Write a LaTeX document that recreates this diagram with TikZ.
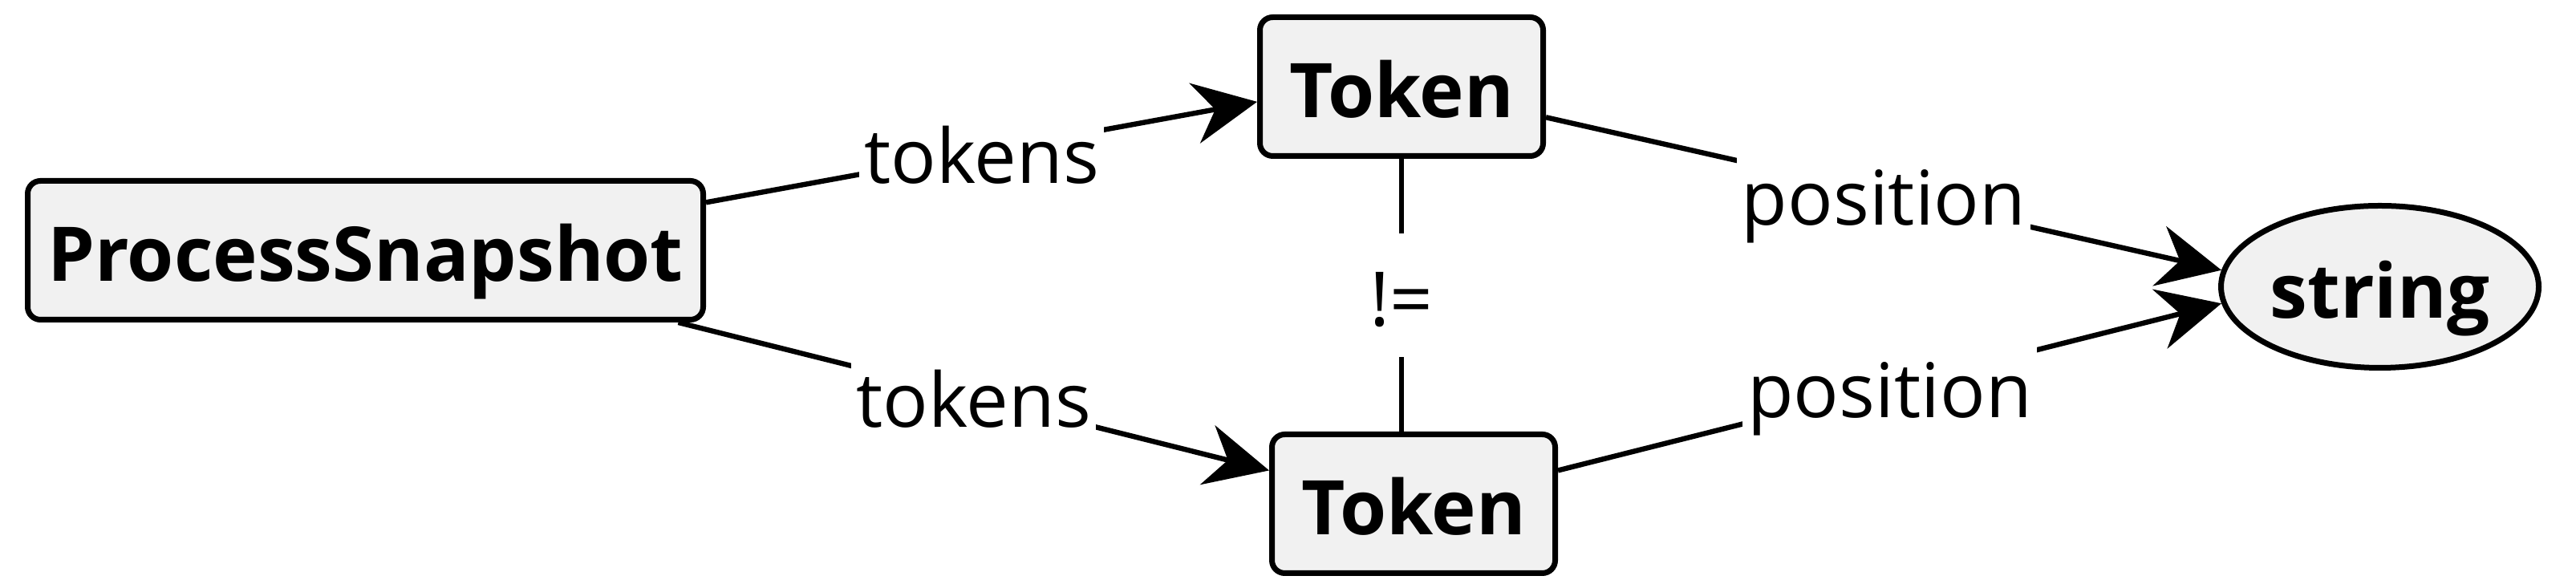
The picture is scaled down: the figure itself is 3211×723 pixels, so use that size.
\documentclass[tikz,border=0pt]{standalone}
\usepackage{fontspec}
\setmainfont{Open Sans}
\usetikzlibrary{arrows.meta,shapes.geometric}
\definecolor{boxFill}{RGB}{241,241,241}
\newcommand{\umlFont}{\fontsize{23.5pt}{28pt}\selectfont}
\tikzstyle{diagram} = [x = 0.25pt, y = -0.25pt, font=\umlFont]
\tikzstyle{classBox} = [draw=black, fill=boxFill, line width=1.75pt, rounded corners = 4pt, minimum width=88.25pt, minimum height=43.25pt, text height=19.3pt, text depth=0pt, font=\umlFont\bfseries]
\tikzstyle{typeEllipse} = [ellipse, draw=black, fill=boxFill, line width=1.75pt, minimum width=99pt, minimum height=50.5pt, inner sep=0pt, text height=19.3pt, text depth=0pt, font=\umlFont\bfseries]
\tikzstyle{linkLine} = [line width=1.6pt]
\tikzstyle{linkArrow} = [linkLine, -{Stealth[length=19.75pt, width=19pt, inset=6.5pt]}]
\tikzstyle{linkLabel} = [midway, fill=white, inner xsep=1.5pt, inner ysep=9.5pt, text height=19.3pt, text depth=0pt]
\begin{document}
\begin{tikzpicture}[diagram]
       \useasboundingbox (0,0) rectangle (3211,723);
       \node [classBox, minimum width=210.5pt] (snapshot) at (455.5,312) {ProcessSnapshot};
       \node [classBox] (tokenTop) at (1747,108) {Token};
       \node [classBox] (tokenBottom) at (1762,628) {Token};
       \node [typeEllipse] (stringType) at (2966.5,357.5) {string};

       \draw [linkArrow] (snapshot.8) -- node [linkLabel] {tokens} (tokenTop.186);
       \draw [linkArrow] (snapshot.347) -- node [linkLabel] {tokens} (tokenBottom.167);
       \draw [linkLine] (tokenTop.south) -- node [linkLabel] {!=} (tokenTop.south |- tokenBottom.north);
       \draw [linkArrow] (tokenTop.348) -- node [linkLabel] {position} (stringType.174);
       \draw [linkArrow] (tokenBottom.13) -- node [linkLabel] {position} (stringType.186);
     \end{tikzpicture}
\end{document}
